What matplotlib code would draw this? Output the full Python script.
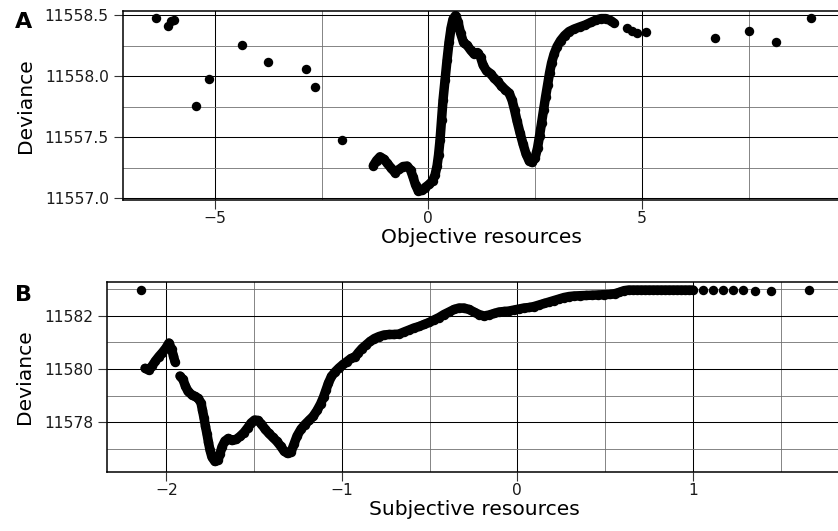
import matplotlib
matplotlib.use("Agg")
import matplotlib.pyplot as plt
from matplotlib.ticker import MultipleLocator, FormatStrFormatter

plt.rcParams["font.family"] = ["DejaVu Sans"]

# ---- Panel A: deviance profile over objective resources ----
a_dense_x = [-1.288, -1.213, -1.131, -1.049, -0.967, -0.874, -0.780, -0.686, -0.593, -0.499,
             -0.417, -0.358, -0.300, -0.234, -0.159, -0.077, 0.016, 0.098, 0.157, 0.204,
             0.239, 0.274, 0.309, 0.344, 0.391, 0.438, 0.485, 0.532, 0.578, 0.637,
             0.696, 0.754, 0.824, 0.906, 0.988, 1.059, 1.152, 1.222, 1.281, 1.363,
             1.457, 1.539, 1.621, 1.703, 1.796, 1.890, 1.960, 2.019, 2.077, 2.148,
             2.218, 2.288, 2.358, 2.429, 2.499, 2.557, 2.604, 2.651, 2.698, 2.745,
             2.792, 2.838, 2.885, 2.944, 3.014, 3.096, 3.190, 3.295, 3.412, 3.541,
             3.670, 3.799, 3.927, 4.044, 4.162, 4.267, 4.349]
a_dense_y = [11557.267, 11557.309, 11557.340, 11557.322, 11557.289, 11557.248, 11557.211, 11557.236, 11557.260, 11557.264,
             11557.232, 11557.174, 11557.109, 11557.060, 11557.064, 11557.088, 11557.113, 11557.142, 11557.191, 11557.264,
             11557.354, 11557.477, 11557.641, 11557.804, 11557.968, 11558.132, 11558.279, 11558.394, 11558.467, 11558.496,
             11558.443, 11558.353, 11558.275, 11558.254, 11558.214, 11558.185, 11558.193, 11558.156, 11558.091, 11558.042,
             11558.021, 11557.984, 11557.956, 11557.923, 11557.890, 11557.862, 11557.804, 11557.723, 11557.633, 11557.534,
             11557.444, 11557.363, 11557.309, 11557.293, 11557.330, 11557.412, 11557.510, 11557.616, 11557.723, 11557.829,
             11557.927, 11558.025, 11558.107, 11558.181, 11558.242, 11558.291, 11558.332, 11558.365, 11558.385, 11558.402,
             11558.418, 11558.439, 11558.459, 11558.471, 11558.471, 11558.455, 11558.435]
a_sparse_x = [-6.38, -6.09, -6.03, -5.96, -5.45, -5.14, -4.36, -3.75, -2.86, -2.65, -2.03,
              4.646, 4.763, 4.880, 5.098, 6.71, 7.50, 8.14, 8.96]
a_sparse_y = [11558.473, 11558.410, 11558.453, 11558.459, 11557.755, 11557.974, 11558.252, 11558.118,
              11558.056, 11557.913, 11557.477, 11558.391, 11558.369, 11558.350, 11558.358, 11558.309,
              11558.369, 11558.282, 11558.473]

# ---- Panel B: deviance profile over subjective resources ----
b_dense1_x = [-2.121, -2.101, -2.081, -2.062, -2.042, -2.022, -2.002, -1.985, -1.970, -1.959, -1.950]
b_dense1_y = [11580.026, 11579.962, 11580.113, 11580.300, 11580.469, 11580.619, 11580.788, 11580.976,
              11580.750, 11580.488, 11580.263]
b_dense2_x = [-1.922, -1.905, -1.891, -1.876, -1.856, -1.836, -1.817, -1.802, -1.794, -1.785,
              -1.777, -1.768, -1.760, -1.751, -1.740, -1.723, -1.705, -1.694, -1.683, -1.666,
              -1.646, -1.626, -1.603, -1.580, -1.557, -1.537, -1.517, -1.497, -1.478, -1.458,
              -1.438, -1.415, -1.392, -1.369, -1.349, -1.329, -1.309, -1.289, -1.272, -1.255,
              -1.232, -1.210, -1.187, -1.164, -1.141, -1.121, -1.104, -1.090, -1.076, -1.059,
              -1.039, -1.016, -0.993, -0.970, -0.948, -0.925, -0.905, -0.885, -0.862, -0.839,
              -0.814, -0.788, -0.760, -0.731, -0.703, -0.674, -0.646, -0.617, -0.589, -0.560,
              -0.532, -0.503, -0.475, -0.446, -0.418, -0.389, -0.361, -0.332, -0.304, -0.275,
              -0.247, -0.218, -0.190, -0.161, -0.133, -0.104, -0.076, -0.047, -0.019, 0.010,
              0.038, 0.067, 0.095, 0.124, 0.152, 0.181, 0.209, 0.238, 0.266, 0.295,
              0.323, 0.357, 0.391, 0.426, 0.460, 0.494, 0.528, 0.557, 0.582, 0.608,
              0.634, 0.659, 0.682, 0.705, 0.728, 0.750, 0.773, 0.796, 0.819, 0.842,
              0.864, 0.887, 0.910, 0.933, 0.956, 0.978, 1.001]
b_dense2_y = [11579.737, 11579.606, 11579.362, 11579.156, 11579.043, 11578.968, 11578.893, 11578.724, 11578.462, 11578.161,
              11577.861, 11577.561, 11577.261, 11576.961, 11576.698, 11576.529, 11576.585, 11576.811, 11577.073, 11577.298,
              11577.392, 11577.317, 11577.355, 11577.467, 11577.617, 11577.786, 11577.974, 11578.086, 11578.068, 11577.936,
              11577.749, 11577.580, 11577.430, 11577.280, 11577.111, 11576.923, 11576.829, 11576.886, 11577.186, 11577.486,
              11577.749, 11577.917, 11578.068, 11578.218, 11578.443, 11578.687, 11578.949, 11579.212, 11579.475, 11579.719,
              11579.887, 11580.038, 11580.169, 11580.281, 11580.394, 11580.450, 11580.619, 11580.769, 11580.901, 11581.032,
              11581.144, 11581.219, 11581.276, 11581.295, 11581.295, 11581.313, 11581.388, 11581.463, 11581.538, 11581.595,
              11581.670, 11581.745, 11581.839, 11581.932, 11582.045, 11582.139, 11582.233, 11582.289, 11582.289, 11582.233,
              11582.139, 11582.045, 11581.989, 11582.026, 11582.083, 11582.139, 11582.158, 11582.176, 11582.214, 11582.251,
              11582.289, 11582.308, 11582.345, 11582.402, 11582.458, 11582.514, 11582.570, 11582.627, 11582.683, 11582.720,
              11582.740, 11582.750, 11582.760, 11582.770, 11582.780, 11582.790, 11582.800, 11582.830, 11582.880, 11582.940,
              11582.964, 11582.964, 11582.964, 11582.964, 11582.964, 11582.964, 11582.964, 11582.964, 11582.964, 11582.964,
              11582.964, 11582.964, 11582.964, 11582.964, 11582.964, 11582.964, 11582.964]
b_sparse_x = [-2.144, 1.060, 1.117, 1.174, 1.227, 1.284, 1.354, 1.444, 1.664]
b_sparse_y = [11582.964, 11582.960, 11582.960, 11582.960, 11582.960, 11582.950, 11582.940, 11582.920, 11582.964]

# ---- Axis settings ----
a_xlim = (-7.15, 9.64)
a_ylim = (11556.986, 11558.533)
b_xlim = (-2.336, 1.850)
b_ylim = (11576.146, 11583.276)

W, H = 838, 531
fig = plt.figure(figsize=(W / 100, H / 100), dpi=100)
axA = fig.add_axes([123 / W, 1 - 200 / H, 717 / W, 189 / H])
axB = fig.add_axes([107.3 / W, 1 - 471.7 / H, 734.7 / W, 190 / H])

MS = 6.8  # point diameter in pt
LW = 6.8


def draw_profile(ax, runs, sparse):
    for xs, ys in runs:
        ax.plot(xs, ys, color="black", lw=LW, solid_joinstyle="round",
                solid_capstyle="round", zorder=3)
        ax.plot(xs, ys, "o", color="black", ms=MS, mew=0, zorder=3)
    ax.plot(sparse[0], sparse[1], "o", color="black", ms=MS, mew=0, zorder=3)


def style(ax, xlim, ylim, xmaj, xmin, ymaj, ymin, yfmt, xlabel):
    ax.set_xlim(*xlim)
    ax.set_ylim(*ylim)
    ax.xaxis.set_major_locator(MultipleLocator(xmaj))
    ax.xaxis.set_minor_locator(MultipleLocator(xmin))
    ax.yaxis.set_major_locator(MultipleLocator(ymaj))
    ax.yaxis.set_minor_locator(MultipleLocator(ymin))
    ax.yaxis.set_major_formatter(FormatStrFormatter(yfmt))
    ax.grid(which="major", color="black", lw=0.75)
    ax.grid(which="minor", color="#707070", lw=0.6)
    ax.set_axisbelow(True)
    ax.tick_params(which="major", length=6.5, width=0.8, color="#333333",
                   labelsize=11.2, labelcolor="#1a1a1a", pad=1.5)
    ax.tick_params(axis="y", which="major", pad=3.7)
    ax.tick_params(which="minor", length=0)
    for s in ax.spines.values():
        s.set_color("black")
        s.set_linewidth(1.1)
    ax.set_xlabel(xlabel, fontsize=14.6, color="black", labelpad=1.5)
    ax.set_ylabel("Deviance", fontsize=14.6, color="black", labelpad=7)


draw_profile(axA, [(a_dense_x, a_dense_y)], (a_sparse_x, a_sparse_y))
style(axA, a_xlim, a_ylim, 5, 2.5, 0.5, 0.25, "%.1f", "Objective resources")

draw_profile(axB, [(b_dense1_x, b_dense1_y), (b_dense2_x, b_dense2_y)], (b_sparse_x, b_sparse_y))
style(axB, b_xlim, b_ylim, 1, 0.5, 2, 1, "%d", "Subjective resources")

fig.text(15 / W, 1 - 27.7 / H, "A", fontsize=16, fontweight="bold", va="baseline")
fig.text(15 / W, 1 - 301 / H, "B", fontsize=16, fontweight="bold", va="baseline")

fig.savefig("out.png", dpi=100)
